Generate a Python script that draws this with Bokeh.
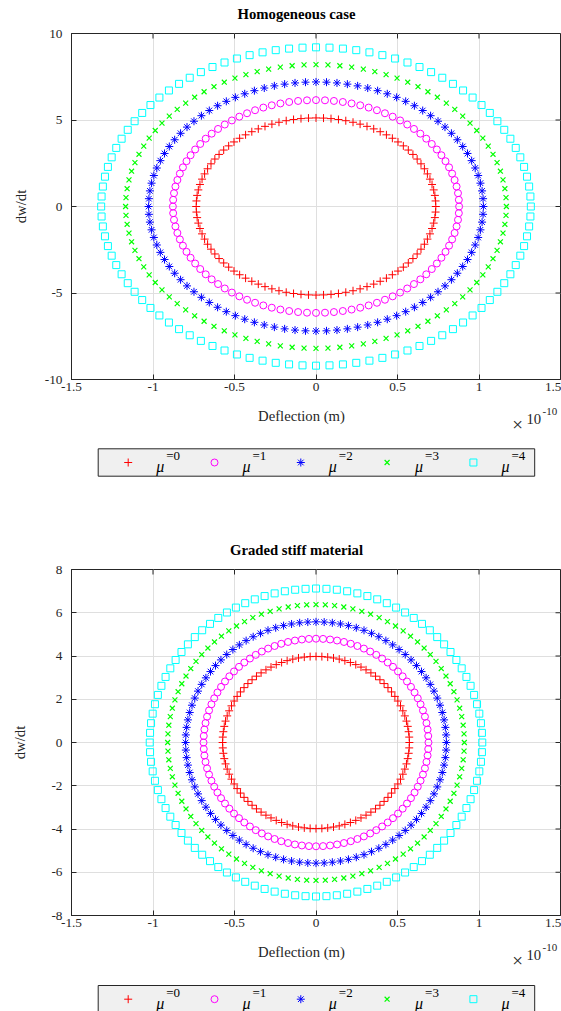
import numpy as np
from bokeh.plotting import figure
from bokeh.models import Range1d, FixedTicker, NumeralTickFormatter
from bokeh.layouts import column
from bokeh.embed import file_html
from bokeh.resources import INLINE
from bokeh.core.properties import value

# ---------------- data ----------------
mu_values = ["0", "1", "2", "3", "4"]
samples_per_orbit = 100
# deflection amplitude (units of 1e-10 m) and dw/dt amplitude of each closed orbit
homog_defl_amp = [0.735, 0.878, 1.027, 1.168, 1.318]
homog_vel_amp = [5.12, 6.15, 7.20, 8.20, 9.20]
graded_defl_amp = [0.573, 0.690, 0.800, 0.910, 1.020]
graded_vel_amp = [3.98, 4.80, 5.58, 6.38, 7.12]
x_ticks = [-1.5, -1, -0.5, 0, 0.5, 1, 1.5]
homog_y_ticks = [-10, -5, 0, 5, 10]
graded_y_ticks = [-8, -6, -4, -2, 0, 2, 4, 6, 8]

markers = ["cross", "circle", "asterisk", "x", "square"]
colors = ["#ff0000", "#ff00ff", "#0000ff", "#00ff00", "#00ffff"]
msizes = [8, 7, 8, 7, 7]
mwidths = [1, 1, 1, 1.2, 1]

FONT = "Liberation Serif"
DARK = "#262626"
FL, FW, FH = 71, 489, 346      # frame left / width / height (pixels)
HEAD_H = 24                    # strip holding the title
TOP_B = 9                      # plot border above the frame
PLOT_H = TOP_B + FH + 21       # plot canvas
FOOT_H = 136                   # strip with x label, exponent and legend


def orbit(a, b):
    th = np.linspace(0, 2 * np.pi, samples_per_orbit, endpoint=False)
    return a * np.cos(th), b * np.sin(th)


def style_axis(ax):
    ax.axis_line_color = DARK
    ax.major_tick_line_color = DARK
    ax.major_tick_in = 5
    ax.major_tick_out = 0
    ax.minor_tick_line_color = None
    ax.major_label_text_font = FONT
    ax.major_label_text_color = DARK
    ax.major_label_text_font_size = "13.3px"


def strip(height):
    # a figure whose data units equal canvas pixels (frame aligned with plots: x 71..560)
    f = figure(width=561, height=height, x_range=Range1d(FL, FL + FW),
               y_range=Range1d(height, 0), min_border=0,
               x_axis_location=None, y_axis_location=None,
               output_backend="svg", toolbar_location=None)
    f.outline_line_color = None
    f.grid.visible = False
    f.background_fill_color = "white"
    f.border_fill_color = "white"
    return f


def txt(f, x, y, s, size, **kw):
    f.text(x=[x], y=[y], text=[s], text_font=value(FONT), text_font_size=size,
           text_baseline="middle", **kw)


def make_header(title):
    h = strip(HEAD_H)
    txt(h, 296, 13, title, "14.7px", text_font_style="bold", text_align="center",
        text_color="black")
    return h


def make_panel(amp_x, amp_y, yticks, ylim, ylabel_standoff):
    p = figure(frame_width=FW, frame_height=FH,
               min_border_left=FL, min_border_right=1,
               min_border_top=TOP_B, min_border_bottom=PLOT_H - TOP_B - FH,
               x_range=Range1d(-1.5, 1.5), y_range=Range1d(-ylim, ylim),
               output_backend="svg", toolbar_location=None)
    p.outline_line_color = DARK
    p.background_fill_color = "white"
    p.border_fill_color = "white"

    p.xaxis.ticker = FixedTicker(ticks=x_ticks)
    p.xaxis.formatter = NumeralTickFormatter(format="0.[0]")
    p.yaxis.ticker = FixedTicker(ticks=yticks)
    p.yaxis.formatter = NumeralTickFormatter(format="0")
    style_axis(p.xaxis[0])
    style_axis(p.yaxis[0])
    p.xaxis.major_label_standoff = 3
    p.yaxis.major_label_standoff = 9
    p.yaxis.axis_label = "dw/dt"
    p.yaxis.axis_label_text_font = FONT
    p.yaxis.axis_label_text_font_size = "14.7px"
    p.yaxis.axis_label_text_font_style = "normal"
    p.yaxis.axis_label_text_color = DARK
    p.yaxis.axis_label_standoff = ylabel_standoff

    p.grid.grid_line_color = "#dfdfdf"
    p.grid.grid_line_width = 1

    # inward tick marks on the top and right edges of the box
    ty = 5.0 * (2 * ylim) / FH
    tx = 5.0 * 3.0 / FW
    p.segment(x0=x_ticks, x1=x_ticks, y0=[ylim] * len(x_ticks),
              y1=[ylim - ty] * len(x_ticks), line_color=DARK, line_width=1)
    p.segment(x0=[1.5] * len(yticks), x1=[1.5 - tx] * len(yticks), y0=yticks, y1=yticks,
              line_color=DARK, line_width=1)

    for i in range(len(mu_values)):
        x, y = orbit(amp_x[i], amp_y[i])
        p.scatter(x, y, marker=markers[i], size=msizes[i], line_color=colors[i],
                  fill_color=None, line_width=mwidths[i])
    return p


def make_footer(height, box_top):
    f = strip(height)
    txt(f, 301, 15, "Deflection (m)", "14.7px", text_align="center", text_color=DARK)
    txt(f, 517, 24, "\u00d7", "19px", text_align="center", text_color=DARK)
    txt(f, 526, 18, "10", "14.7px", text_align="left", text_color=DARK)
    txt(f, 542, 11, "-10", "11px", text_align="left", text_color=DARK)

    f.quad(left=[97.7], right=[534.2], top=[box_top], bottom=[box_top + 27.4],
           fill_color="#f0f0f0", line_color=DARK, line_width=1)
    cy = box_top + 13.7
    for i in range(len(mu_values)):
        mx = 127.7 + 86.3 * i
        f.scatter([mx], [cy], marker=markers[i], size=msizes[i], line_color=colors[i],
                  fill_color=None, line_width=mwidths[i])
        txt(f, mx + 28, cy + 4, "\u03bc", "16px", text_font_style="italic",
            text_align="left", text_color="black")
        txt(f, mx + 38, cy - 7, "=" + mu_values[i], "13px", text_align="left",
            text_color="black")
    return f


h1 = make_header("Homogeneous case")
p1 = make_panel(homog_defl_amp, homog_vel_amp, homog_y_ticks, 10, 13)
f1 = make_footer(FOOT_H, 48.3)
h2 = make_header("Graded stiff material")
p2 = make_panel(graded_defl_amp, graded_vel_amp, graded_y_ticks, 8, 20)
f2 = make_footer(1011 - 2 * HEAD_H - 2 * PLOT_H - FOOT_H, 49.0)

layout = column(h1, p1, f1, h2, p2, f2, spacing=0)
open("out.html", "w").write(file_html(layout, INLINE))
